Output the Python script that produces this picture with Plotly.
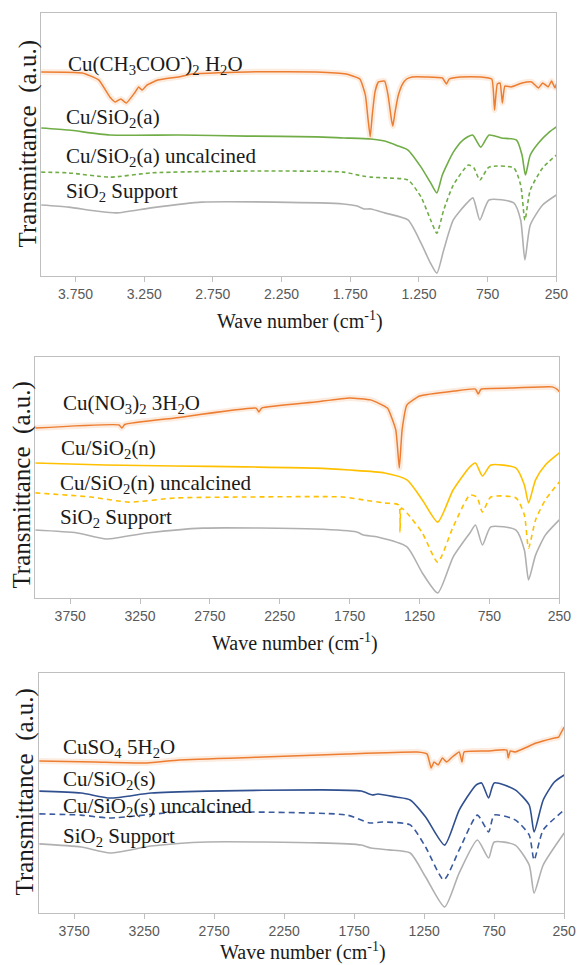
import plotly.graph_objects as go

W, H = 586, 965

# ---------------- Panel 1: copper acetate series ----------------
p1_acetate_wn = [4000, 3700, 3580, 3500, 3460, 3420, 3380, 3320, 3290, 3265, 3230, 3150, 3000, 2900, 2500, 2000,
                 1780, 1680, 1640, 1620, 1605, 1590, 1570, 1545, 1500, 1475, 1450, 1440, 1425, 1400, 1370, 1340,
                 1300, 1200, 1080, 1050, 1030, 950, 800, 720, 700, 680, 660, 643, 625, 580, 500, 430, 380, 350,
                 310, 285, 260, 250]
p1_acetate_t = [77.6, 77.2, 74.5, 68.1, 66.2, 67.3, 65.8, 69.6, 71.9, 70.7, 72.6, 74.5, 75.7, 76.8, 77.6, 77.6,
                76.8, 74.9, 68.8, 59.3, 52.9, 61.2, 70.0, 73.8, 74.1, 68.8, 59.3, 57.0, 62.0, 68.8, 73.0, 74.9,
                75.7, 75.7, 75.3, 73.0, 74.9, 75.7, 75.7, 74.9, 63.1, 73.0, 73.4, 65.8, 72.2, 71.9, 73.4, 73.8,
                71.5, 73.4, 71.9, 74.1, 71.5, 73.0]

p1_cal_wn = [4000, 3800, 3500, 3000, 2500, 2000, 1800, 1600, 1500, 1400, 1330, 1235, 1165, 1120, 1080, 1000, 930,
             860, 800, 740, 650, 540, 500, 475, 440, 380, 300, 250]
p1_cal_t = [56.3, 55.5, 53.6, 53.6, 53.2, 52.9, 52.5, 52.1, 51.3, 49.4, 47.9, 41.4, 35.4, 31.6, 38.4, 47.1, 51.7,
            53.6, 49.0, 53.6, 52.5, 51.7, 46.0, 38.4, 46.0, 50.6, 54.8, 56.7]

p1_unc_wn = [4000, 3800, 3500, 3200, 2500, 1800, 1660, 1600, 1500, 1330, 1235, 1165, 1120, 1070, 1000, 890, 850,
             807, 740, 560, 510, 479, 440, 350, 250]
p1_unc_t = [39.5, 39.2, 37.6, 39.2, 39.9, 39.5, 38.0, 37.6, 37.3, 36.5, 30.0, 21.3, 16.3, 25.1, 34.6, 42.2, 41.1,
            36.5, 41.4, 41.1, 34.6, 21.3, 32.7, 41.1, 46.0]

p1_sio2_wn = [4000, 3800, 3600, 3450, 3200, 2830, 2300, 1800, 1700, 1650, 1600, 1500, 1330, 1235, 1170, 1120, 1070,
              1000, 900, 857, 807, 740, 560, 510, 479, 440, 350, 250]
p1_sio2_t = [27.0, 26.2, 24.7, 24.0, 25.9, 28.1, 28.1, 27.4, 26.6, 25.5, 25.5, 24.0, 21.3, 12.5, 5.3, 1.1, 9.9,
             21.3, 27.8, 29.7, 21.3, 28.9, 27.8, 21.3, 6.1, 19.4, 27.0, 30.8]

# ---------------- Panel 2: copper nitrate series ----------------
p2_nitrate_wn = [4000, 3400, 3380, 3360, 3000, 2420, 2400, 2380, 2000, 1750, 1600, 1480, 1420, 1395, 1375, 1340,
                 1250, 1000, 850, 830, 810, 600, 300, 260, 250]
p2_nitrate_t = [70.5, 71.8, 70.5, 72.0, 74.7, 78.8, 77.2, 78.8, 81.3, 83.0, 82.2, 78.8, 69.7, 53.9, 69.7, 80.1,
                83.8, 85.9, 86.7, 84.6, 86.7, 87.1, 87.6, 86.3, 85.5]

p2_cal_wn = [4000, 3500, 3000, 2500, 2000, 1750, 1500, 1340, 1230, 1120, 1010, 890, 850, 800, 740, 560, 500, 470,
             420, 350, 250]
p2_cal_t = [56.0, 55.2, 54.8, 54.4, 53.9, 53.1, 51.9, 49.0, 40.7, 31.5, 44.8, 54.4, 56.0, 50.6, 55.2, 53.9, 46.9,
            39.4, 49.0, 55.2, 60.2]

p2_unc_wn = [4000, 3600, 3330, 3000, 2500, 1800, 1650, 1500, 1400, 1390, 1380, 1340, 1230, 1120, 1010, 890, 840,
             800, 740, 560, 500, 470, 420, 350, 250]
p2_unc_t = [43.6, 41.9, 39.8, 41.5, 41.9, 41.9, 40.7, 39.4, 38.6, 27.4, 37.3, 35.3, 27.0, 14.9, 29.5, 42.7, 41.9,
            35.7, 41.9, 41.5, 34.4, 20.7, 32.4, 40.7, 48.1]

p2_sio2_wn = [4000, 3700, 3490, 3200, 2800, 2000, 1700, 1650, 1550, 1340, 1230, 1120, 1010, 890, 850, 800, 740, 560,
              500, 470, 420, 350, 250]
p2_sio2_t = [28.2, 27.0, 24.5, 27.0, 29.0, 28.6, 27.4, 26.1, 25.3, 21.2, 10.4, 2.1, 17.0, 27.0, 30.3, 22.0, 29.5,
             28.2, 19.9, 7.5, 17.8, 26.1, 32.4]

# ---------------- Panel 3: copper sulfate series ----------------
p3_sulfate_wn = [4000, 3600, 3230, 3000, 2400, 1800, 1300, 1230, 1200, 1180, 1150, 1120, 1090, 1050, 1000, 980,
                 965, 800, 660, 650, 635, 600, 450, 320, 290, 270, 250]
p3_sulfate_t = [63.3, 62.9, 62.5, 63.8, 65.0, 66.3, 67.1, 66.3, 60.4, 62.9, 61.7, 64.6, 62.9, 65.0, 67.1, 62.9,
                67.1, 67.5, 67.9, 64.6, 67.5, 67.1, 70.8, 72.9, 73.3, 75.4, 77.5]

p3_cal_wn = [4000, 3700, 3494, 3200, 2800, 2000, 1700, 1620, 1580, 1450, 1350, 1240, 1104, 1000, 880, 840, 790, 750,
             600, 500, 465, 400, 320, 250]
p3_cal_t = [50.8, 50.0, 47.9, 50.0, 50.8, 51.3, 50.8, 49.2, 49.6, 48.3, 47.1, 40.0, 28.3, 42.9, 53.3, 54.2, 47.9,
            54.2, 51.3, 45.0, 33.8, 47.1, 54.6, 57.5]

p3_unc_wn = [4000, 3700, 3500, 3000, 2500, 1800, 1640, 1550, 1350, 1240, 1110, 1000, 870, 790, 750, 600, 500, 465,
             400, 250]
p3_unc_t = [41.3, 40.8, 39.6, 42.1, 42.1, 40.8, 37.5, 37.9, 36.7, 27.5, 13.8, 26.3, 40.8, 33.8, 40.8, 38.8, 32.5,
            22.1, 34.6, 42.9]

p3_sio2_wn = [4000, 3700, 3494, 3200, 2800, 2000, 1700, 1630, 1500, 1350, 1240, 1104, 1000, 870, 790, 750, 600, 500,
              465, 400, 250]
p3_sio2_t = [28.8, 27.5, 25.0, 27.9, 29.6, 29.2, 28.3, 27.1, 26.3, 25.0, 15.0, 2.5, 16.7, 30.4, 22.9, 29.6, 28.3,
             20.0, 8.3, 20.0, 33.3]

tick_vals = [3750, 3250, 2750, 2250, 1750, 1250, 750, 250]
tick_text_p1 = ["3.750", "3.250", "2.750", "2.250", "1.750", "1.250", "750", "250"]
tick_text_p23 = ["3750", "3250", "2750", "2250", "1750", "1250", "750", "250"]

labels_p1 = ["Cu(CH<sub>3</sub>COO<sup>-</sup>)<sub>2</sub> H<sub>2</sub>O", "Cu/SiO<sub>2</sub>(a)",
             "Cu/SiO<sub>2</sub>(a) uncalcined", "SiO<sub>2</sub> Support"]
labels_p2 = ["Cu(NO<sub>3</sub>)<sub>2</sub> 3H<sub>2</sub>O", "Cu/SiO<sub>2</sub>(n)",
             "Cu/SiO<sub>2</sub>(n) uncalcined", "SiO<sub>2</sub> Support"]
labels_p3 = ["CuSO<sub>4</sub> 5H<sub>2</sub>O", "Cu/SiO<sub>2</sub>(s)",
             "Cu/SiO<sub>2</sub>(s) uncalcined", "SiO<sub>2</sub> Support"]

ORANGE = "#ED7D31"
GREEN = "#70AD47"
YELLOW = "#FFC000"
BLUE = "#2F4F8F"
BLUE_D = "#3A5A9E"
GRAY = "#B0B0B0"

# panel frames in pixels: (left, right, top, bottom)
frames = [(42, 568, 13, 276), (36, 571, 357, 598), (40, 576, 673, 913)]

fig = go.Figure()

panels = [
    (p1_acetate_wn, p1_acetate_t, p1_cal_wn, p1_cal_t, p1_unc_wn, p1_unc_t, p1_sio2_wn, p1_sio2_t, GREEN, GREEN, "4px,3px"),
    (p2_nitrate_wn, p2_nitrate_t, p2_cal_wn, p2_cal_t, p2_unc_wn, p2_unc_t, p2_sio2_wn, p2_sio2_t, YELLOW, YELLOW, "5px,4px"),
    (p3_sulfate_wn, p3_sulfate_t, p3_cal_wn, p3_cal_t, p3_unc_wn, p3_unc_t, p3_sio2_wn, p3_sio2_t, BLUE, BLUE_D, "6px,4px"),
]

for i, (swn, st, cwn, ct, uwn, ut, gwn, gt, ccol, ucol, dsh) in enumerate(panels):
    xa = "x" if i == 0 else f"x{i+1}"
    ya = "y" if i == 0 else f"y{i+1}"
    common = dict(xaxis=xa, yaxis=ya, mode="lines", showlegend=False, hoverinfo="skip")
    fig.add_trace(go.Scatter(x=gwn, y=gt, line=dict(color=GRAY, width=1.6, shape="spline", smoothing=0.6), **common))
    fig.add_trace(go.Scatter(x=uwn, y=ut, line=dict(color=ucol, width=1.6, dash=dsh, shape="spline", smoothing=0.6), **common))
    fig.add_trace(go.Scatter(x=cwn, y=ct, line=dict(color=ccol, width=1.6, shape="spline", smoothing=0.6), **common))
    fig.add_trace(go.Scatter(x=swn, y=st, line=dict(color="rgba(237,125,49,0.15)", width=6, shape="spline", smoothing=0.4), **common))
    fig.add_trace(go.Scatter(x=swn, y=st, line=dict(color=ORANGE, width=1.5, shape="spline", smoothing=0.4), **common))

layout = dict(width=W, height=H, margin=dict(l=0, r=0, t=0, b=0), paper_bgcolor="white",
              plot_bgcolor="white", showlegend=False)

for i, (l, r, t, b) in enumerate(frames):
    sfx = "" if i == 0 else str(i + 1)
    layout["xaxis" + sfx] = dict(
        domain=[l / W, r / W], range=[4000, 250], anchor="y" + sfx,
        tickvals=tick_vals, ticktext=tick_text_p1 if i == 0 else tick_text_p23,
        ticks="outside", ticklen=5, tickcolor="#BFBFBF", tickwidth=1,
        showline=True, mirror=True, linecolor="#BFBFBF", linewidth=1,
        showgrid=False, zeroline=False,
        tickfont=dict(family="Liberation Sans Narrow, Liberation Sans, Arial, sans-serif", size=14, color="#595959"),
    )
    layout["yaxis" + sfx] = dict(
        domain=[1 - b / H, 1 - t / H], range=[0, 100], anchor="x" + sfx,
        showticklabels=False, ticks="", showline=True, mirror=True, linecolor="#BFBFBF", linewidth=1,
        showgrid=False, zeroline=False,
    )

fig.update_layout(**layout)

serif = "Liberation Serif, Times New Roman, serif"
ann = []
label_pos = [
    (labels_p1, [(67, 63), (65, 118), (65, 157), (65, 192)]),
    (labels_p2, [(62, 404), (60, 449), (59, 484), (59, 518)]),
    (labels_p3, [(62, 748), (62, 780), (62, 807), (62, 837)]),
]
for labs, pos in label_pos:
    for txt, (px, py) in zip(labs, pos):
        ann.append(dict(text=txt, x=px / W, y=1 - py / H, xref="paper", yref="paper", xanchor="left",
                        yanchor="middle", showarrow=False, font=dict(family=serif, size=21, color="#1a1a1a")))

# axis titles
ytitle_pos = [(29, 144), (22, 485), (26, 792)]
xtitle_pos = [(306, 320), (301, 642), (309, 951)]
for (px, py) in ytitle_pos:
    ann.append(dict(text="Transmittance&nbsp;&nbsp;(a.u.)", x=px / W, y=1 - py / H, xref="paper", yref="paper",
                    xanchor="center", yanchor="middle", textangle=-90, showarrow=False,
                    font=dict(family=serif, size=25, color="#1a1a1a")))
for (px, py) in xtitle_pos:
    ann.append(dict(text="Wave number (cm<sup>-1</sup>)", x=px / W, y=1 - py / H, xref="paper", yref="paper",
                    xanchor="center", yanchor="middle", showarrow=False,
                    font=dict(family=serif, size=20, color="#1a1a1a")))

fig.update_layout(annotations=ann)
fig.write_html("out.html")
